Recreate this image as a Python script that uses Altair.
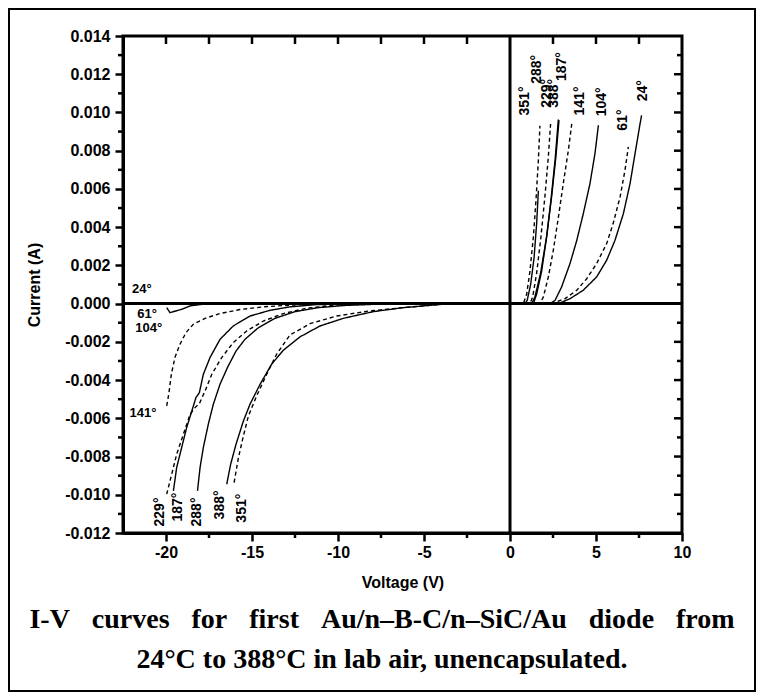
import altair as alt
import pandas as pd

# ---------------- data ----------------
TEMPS = ["24°", "61°", "104°", "141°", "187°", "229°", "288°", "351°", "388°"]
STYLES = ["solid", "dashed", "solid", "dashed", "solid", "dashed", "solid", "dashed", "solid"]

V_24 = [-20.0, 0.0, 2.13, 2.9, 3.49, 4.26, 5.04, 5.62, 6.1, 6.59, 6.98, 7.27, 7.56, 7.65]
I_24 = [0.0, 0.0, 0.0, 0.00003, 0.00026, 0.0007, 0.0014, 0.00227, 0.0033, 0.0047, 0.00628, 0.00785, 0.0094, 0.00985]

V_61 = [-20.0, -15.0, 0.0, 1.94, 2.52, 3.2, 3.88, 4.46, 5.04, 5.62, 6.0, 6.4, 6.69, 6.88]
I_61 = [-0.00003, 0.0, 0.0, 0.0, 0.00003, 0.00026, 0.0007, 0.0013, 0.0021, 0.00314, 0.0042, 0.00558, 0.007, 0.0082]

V_104 = [-19.96, -19.77, -19.09, -18.6, -17.83, -16.0, 0.0, 2.33, 2.62, 3.0, 3.49, 3.88, 4.26, 4.65, 4.94, 5.14]
I_104 = [-0.00021, -0.00047, -0.0003, -0.00012, -0.00003, 0.0, 0.0, 0.0, 0.00017, 0.00087, 0.0021, 0.0033, 0.0047, 0.00628, 0.00785, 0.00933]

V_141 = [-19.96, -19.84, -19.69, -19.48, -19.19, -18.84, -18.41, -17.73, -16.86, -15.7, -14.34, -12.6, -10.0, 0.0,
         1.74, 1.94, 2.23, 2.52, 2.81, 3.1, 3.39, 3.59]
I_141 = [-0.00535, -0.00474, -0.0037, -0.00282, -0.00213, -0.00152, -0.00108, -0.00077, -0.00052, -0.00031, -0.00017, -0.00007, 0.0, 0.0,
         0.0, 0.00035, 0.0014, 0.0028, 0.0045, 0.0063, 0.008, 0.0094]

V_187 = [-19.57, -19.38, -19.09, -18.8, -18.5, -18.26, -18.06, -17.83, -17.44, -16.86, -16.09, -15.12, -13.95, -12.79, -11.24, -8.0, 0.0,
         1.36, 1.55, 1.84, 2.13, 2.38, 2.62, 2.81]
I_187 = [-0.0098, -0.00858, -0.00753, -0.00649, -0.00562, -0.00492, -0.00466, -0.0037, -0.00282, -0.00187, -0.00117, -0.00065, -0.00035, -0.00017, -0.00005, 0.0, 0.0,
         0.0, 0.0005, 0.0017, 0.0035, 0.0054, 0.0075, 0.00963]

V_229 = [-19.96, -19.67, -19.38, -18.99, -18.6, -18.31, -18.06, -17.73, -17.34, -16.76, -16.09, -15.31, -14.34, -13.18, -11.82, -10.08, -7.0, 0.0,
         1.16, 1.32, 1.55, 1.8, 2.03, 2.23, 2.36]
I_229 = [-0.00997, -0.00893, -0.00788, -0.00684, -0.00579, -0.00544, -0.00523, -0.00457, -0.0037, -0.00282, -0.00204, -0.00143, -0.00091, -0.00052, -0.00024, -0.00007, 0.0, 0.0,
         0.0, 0.00035, 0.0016, 0.0035, 0.0056, 0.0077, 0.0094]

V_288 = [-18.17, -18.02, -17.83, -17.54, -17.25, -16.86, -16.43, -15.93, -15.41, -14.63, -13.66, -12.5, -11.15, -9.5, -7.36, -5.0, 0.0,
         0.87, 1.0, 1.2, 1.4, 1.55, 1.65]
I_288 = [-0.0098, -0.00858, -0.00753, -0.00631, -0.00527, -0.00422, -0.00335, -0.00248, -0.00187, -0.00126, -0.00077, -0.00042, -0.00021, -0.00009, -0.00002, 0.0, 0.0,
         0.0, 0.00017, 0.001, 0.0024, 0.0042, 0.0059]

V_351 = [-16.04, -15.79, -15.5, -15.21, -14.73, -14.15, -13.57, -12.79, -11.63, -10.08, -8.14, -6.2, -3.5, 0.0,
         0.78, 0.97, 1.16, 1.36, 1.51, 1.65, 1.74]
I_351 = [-0.00936, -0.00806, -0.00692, -0.00588, -0.00483, -0.0037, -0.00265, -0.00164, -0.00105, -0.00065, -0.00038, -0.00021, 0.0, 0.0,
         0.0, 0.0005, 0.0017, 0.0035, 0.0054, 0.0075, 0.0093]

V_388 = [-16.47, -16.24, -15.93, -15.5, -15.12, -14.53, -13.86, -13.18, -12.21, -11.05, -9.69, -7.95, -6.2, -3.5, 0.0,
         1.26, 1.45, 1.78, 2.13, 2.42, 2.67, 2.85]
I_388 = [-0.00945, -0.0084, -0.00736, -0.00614, -0.00527, -0.00422, -0.00317, -0.00244, -0.00174, -0.00117, -0.00077, -0.00042, -0.00021, 0.0, 0.0,
         0.0, 0.00035, 0.0016, 0.0035, 0.0056, 0.0077, 0.0096]

CURVES_V = [V_24, V_61, V_104, V_141, V_187, V_229, V_288, V_351, V_388]
CURVES_I = [I_24, I_61, I_104, I_141, I_187, I_229, I_288, I_351, I_388]

# horizontal temperature labels (left side)
HLAB_TEXT = ["24°", "61°", "104°", "141°"]
HLAB_V = [-21.4, -21.1, -21.0, -21.34]
HLAB_I = [0.00077, -0.00052, -0.0013, -0.00572]

# rotated temperature labels
RLAB_TEXT = ["229°", "187°", "288°", "388°", "351°",
             "351°", "288°", "229°", "388°", "187°", "141°", "104°", "61°", "24°"]
RLAB_V = [-20.35, -19.28, -18.18, -16.86, -15.6,
          0.87, 1.59, 2.13, 2.56, 3.0, 4.07, 5.33, 6.59, 7.75]
RLAB_I = [-0.0109, -0.01064, -0.0109, -0.01053, -0.0107,
          0.0106, 0.01226, 0.0110, 0.0110, 0.0124, 0.0106, 0.01056, 0.0096, 0.01114]

X_TICKS = [-20, -15, -10, -5, 0, 5, 10]
X_MINOR = [-17.5, -12.5, -7.5, -2.5, 2.5, 7.5]
X_TOP = [-20, -17.5, -15, -12.5, -10, -7.5, -5, -2.5, 2.5, 5, 7.5]
Y_TICKS = [-0.012, -0.010, -0.008, -0.006, -0.004, -0.002, 0.0, 0.002, 0.004, 0.006, 0.008, 0.010, 0.012, 0.014]
Y_MINOR = [-0.011, -0.009, -0.007, -0.005, -0.003, -0.001, 0.001, 0.003, 0.005, 0.007, 0.009, 0.011, 0.013]
Y_RIGHT = [-0.010, -0.008, -0.006, -0.004, -0.002, 0.002, 0.004, 0.006, 0.008, 0.010, 0.012]
ZERO = [0.0]

CAPTION_1 = "I-V curves for first Au/n\u2013B-C/n\u2013SiC/Au diode from"
CAPTION_2 = "24°C to 388°C in lab air, unencapsulated."

# ---------------- build tables ----------------
rows = []
for t, s, vs, cs in zip(TEMPS, STYLES, CURVES_V, CURVES_I):
    for v, c in zip(vs, cs):
        rows.append({"T": t, "style": s, "V": v, "I": c})
df = pd.DataFrame(rows)
hlab = pd.DataFrame({"label": HLAB_TEXT, "V": HLAB_V, "I": HLAB_I})
rlab = pd.DataFrame({"label": RLAB_TEXT, "V": RLAB_V, "I": RLAB_I})
zero = pd.DataFrame({"z": ZERO})

W, H = 559, 497
XS = alt.Scale(domain=[-22.5, 10], nice=False, zero=False)
YS = alt.Scale(domain=[-0.012, 0.014], nice=False, zero=False)
SANS = "Liberation Sans"
NARROW = "Liberation Sans Narrow, Liberation Sans, Arial, sans-serif"
SERIF = "Liberation Serif"
MINUS = "replace(datum.label, '\u2212', '-')"

common = dict(domainColor="black", tickColor="black", grid=False, labelFlush=False, labelOverlap=False)

lines = alt.Chart(df).mark_line(color="black", strokeWidth=1.4).encode(
    x=alt.X("V:Q", scale=XS, axis=alt.Axis(
        orient="bottom", values=X_TICKS, title="Voltage (V)", labelExpr=MINUS,
        tickSize=8, tickWidth=2.5, domainWidth=3, labelPadding=3,
        labelFont=SANS, labelFontSize=16, labelFontWeight="bold", labelColor="black",
        titleFont=SANS, titleFontSize=16, titleFontWeight="bold", titleColor="black", titlePadding=14,
        **common)),
    y=alt.Y("I:Q", scale=YS, axis=alt.Axis(
        orient="left", values=Y_TICKS, format=".3f", title="Current (A)", labelExpr=MINUS,
        tickSize=8, tickWidth=2.5, domainWidth=3, labelPadding=5,
        labelFont=SANS, labelFontSize=16, labelFontWeight="bold", labelColor="black",
        titleFont=SANS, titleFontSize=16, titleFontWeight="bold", titleColor="black", titlePadding=22,
        **common)),
    detail="T:N",
    strokeDash=alt.StrokeDash("style:N", scale=alt.Scale(domain=["solid", "dashed"], range=[[1, 0], [4, 3]]), legend=None),
)

hzero = alt.Chart(zero).mark_rule(color="black", strokeWidth=3).encode(
    y=alt.Y("z:Q", scale=YS, axis=None))
vzero = alt.Chart(zero).mark_rule(color="black", strokeWidth=3).encode(
    x=alt.X("z:Q", scale=XS, axis=None))

# extra tick marks (minor ticks and mirrored inward ticks), placed by the scales
tick_style = dict(color="black", strokeWidth=2.5)
top_ticks = alt.Chart(pd.DataFrame({"t": X_TOP})).mark_rule(**tick_style).encode(
    x=alt.X("t:Q", scale=XS, axis=None), y=alt.value(0), y2=alt.value(8))
bottom_minor = alt.Chart(pd.DataFrame({"t": X_MINOR})).mark_rule(**tick_style).encode(
    x=alt.X("t:Q", scale=XS, axis=None), y=alt.value(H), y2=alt.value(H + 5))
left_minor = alt.Chart(pd.DataFrame({"t": Y_MINOR})).mark_rule(**tick_style).encode(
    y=alt.Y("t:Q", scale=YS, axis=None), x=alt.value(-5), x2=alt.value(0))
right_major = alt.Chart(pd.DataFrame({"t": Y_RIGHT})).mark_rule(**tick_style).encode(
    y=alt.Y("t:Q", scale=YS, axis=None), x=alt.value(W - 8), x2=alt.value(W))
right_minor = alt.Chart(pd.DataFrame({"t": Y_MINOR})).mark_rule(**tick_style).encode(
    y=alt.Y("t:Q", scale=YS, axis=None), x=alt.value(W - 5), x2=alt.value(W))

htext = alt.Chart(hlab).mark_text(font=NARROW, fontSize=13, fontWeight="bold", color="black",
                                  align="center", baseline="middle").encode(
    x=alt.X("V:Q", scale=XS, axis=None),
    y=alt.Y("I:Q", scale=YS, axis=None),
    text="label:N",
)

rtext = alt.Chart(rlab).mark_text(font=NARROW, fontSize=14, fontWeight="bold", color="black",
                                  align="center", baseline="middle", angle=270).encode(
    x=alt.X("V:Q", scale=XS, axis=None),
    y=alt.Y("I:Q", scale=YS, axis=None),
    text="label:N",
)

frame = alt.Chart(zero).mark_rect(filled=False, stroke="black", strokeWidth=2).encode(
    x=alt.value(-114), x2=alt.value(632), y=alt.value(-27), y2=alt.value(655),
)

SP = "\u2002\u2009\u200a"
cap1 = alt.Chart(zero).mark_text(font=SERIF, fontSize=28, fontWeight="bold", color="black",
                                 align="center", baseline="middle").encode(
    x=alt.value(259), y=alt.value(584), text=alt.value(CAPTION_1.replace(" ", SP)))
cap2 = alt.Chart(zero).mark_text(font=SERIF, fontSize=28, fontWeight="bold", color="black",
                                 align="center", baseline="middle").encode(
    x=alt.value(259), y=alt.value(624), text=alt.value(CAPTION_2))

chart = alt.layer(
    lines, hzero, vzero, top_ticks, bottom_minor, left_minor, right_major, right_minor,
    htext, rtext, frame, cap1, cap2,
).resolve_axis(
    x="independent", y="independent"
).properties(
    width=W, height=H, autosize="none",
    padding={"left": 115, "top": 28, "right": 74, "bottom": 159},
    background="white",
).configure_view(stroke="black", strokeWidth=3)

chart.save("out.html", embed_options={"renderer": "svg", "actions": False})
